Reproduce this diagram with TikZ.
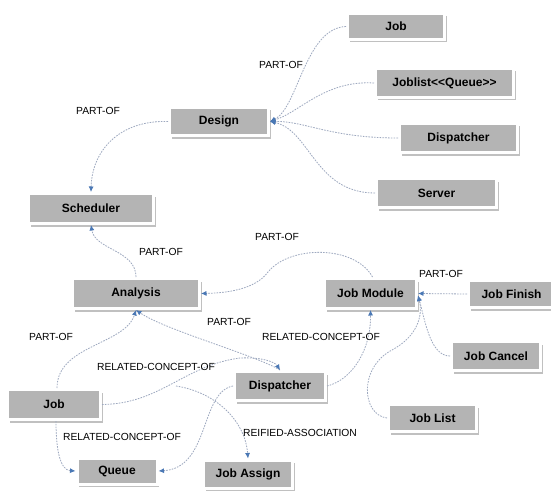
\documentclass[tikz,border=0pt]{standalone}
\usepackage{fontspec}
\setmainfont{Liberation Sans}
\usetikzlibrary{arrows.meta,shadows}
\definecolor{boxgray}{HTML}{B4B4B4}
\definecolor{edgec}{HTML}{9DA8BF}
\definecolor{arrowblue}{HTML}{4A78B5}
\begin{document}
\begin{tikzpicture}[x=1pt,y=-1pt,
 box/.style={draw=white,line width=3pt,fill=boxgray,inner sep=0pt,outer sep=1.5pt,
   font=\fontsize{12}{13}\selectfont\bfseries,
   drop shadow={shadow xshift=2pt,shadow yshift=-3pt,opacity=0.35,fill=black!70}},
 lbl/.style={font=\fontsize{10.3}{12}\selectfont,inner sep=0pt},
 rel/.style={draw=edgec,line width=0.8pt,dash pattern=on 1.6pt off 1.2pt,
   -{Latex[length=5.5pt,width=5pt,color=arrowblue,fill=arrowblue]}},
]
\useasboundingbox (0,0) rectangle (551,492);
\fill[white] (0,0) rectangle (551,492);

% nodes
\node[box,minimum width=97pt,minimum height=26pt] (jobT) at (396,26.5) {Job};
\node[box,minimum width=138pt,minimum height=29pt] (joblist) at (444.5,83) {Joblist<\kern0pt<Queue>\kern0pt>};
\node[box,minimum width=118pt,minimum height=29pt] (dispT) at (458.5,138) {Dispatcher};
\node[box,minimum width=120pt,minimum height=29pt] (server) at (436.5,193) {Server};
\node[box,minimum width=99pt,minimum height=28pt] (design) at (219,121.5) {Design};
\node[box,minimum width=125pt,minimum height=30pt] (sched) at (91,208.5) {Scheduler};
\node[box,minimum width=127pt,minimum height=30pt] (analysis) at (136,293.5) {Analysis};
\node[box,minimum width=92pt,minimum height=30pt] (jobmod) at (370.5,293.5) {Job Module};
\node[box,minimum width=86pt,minimum height=27pt] (jobfin) at (511.5,294) {Job Finish};
\node[box,minimum width=89pt,minimum height=29pt] (jobcan) at (496,356) {Job Cancel};
\node[box,minimum width=88pt,minimum height=27pt] (joblst) at (432.5,418) {Job List};
\node[box,minimum width=91pt,minimum height=29pt] (disp) at (280,386) {Dispatcher};
\node[box,minimum width=93pt,minimum height=30pt] (jobL) at (54,404.5) {Job};
\node[box,minimum width=80pt,minimum height=26pt] (queue) at (117,471) {Queue};
\node[box,minimum width=89pt,minimum height=28pt] (jobassign) at (248,474) {Job Assign};

% helper coordinates
\coordinate (jmin) at ([yshift=-2pt]jobmod.east);
\coordinate (reif) at (176,386);

% edges
\draw[rel] (jobT.west) .. controls (305,28) and (298,108) .. (design.east);
\draw[rel] (joblist.west) .. controls (325,80) and (300,112) .. (design.east);
\draw[rel] (dispT.west) .. controls (330,138) and (305,121) .. (design.east);
\draw[rel] (server.west) .. controls (315,193) and (310,130) .. (design.east);
\draw[rel] (design.west) .. controls (120,120) and (92,150) .. (sched.north);
\draw[rel] (analysis.north) .. controls (136,250) and (95,250) .. (sched.south);
\draw[rel] ([xshift=2pt]jobmod.north) .. controls (355,245) and (290,245) .. (268,272) .. controls (255,290) and (225,293) .. (analysis.east);
\draw[rel] (jobfin.west) -- (jobmod.east);
\draw[rel] (jobcan.west) .. controls (430,356) and (425,320) .. (jmin);
\draw[rel] (joblst.west) .. controls (362,415) and (358,368) .. (392,350) .. controls (418,336) and (423,315) .. (jmin);
\draw[rel] ([xshift=3pt]jobL.north) .. controls (57,345) and (125,345) .. (analysis.south);
\draw[rel] (disp.north) .. controls (255,355) and (165,330) .. (analysis.south);
\draw[rel] (jobL.east) .. controls (160,404) and (185,365) .. (240,358) .. controls (262,357) and (275,362) .. (disp.north);
\draw[rel] (reif) .. controls (215,392) and (245,420) .. (jobassign.north);
\draw[rel] (disp.west) .. controls (200,392) and (210,468) .. (queue.east);
\draw[rel] ([xshift=2pt]jobL.south) .. controls (56,450) and (60,470) .. (queue.west);
\draw[rel] (disp.east) .. controls (352,380) and (371,350) .. (jobmod.south);

% labels
\node[lbl] (l1) at (281,65) {PART-OF};
\node[lbl] (l2) at (98,111) {PART-OF};
\node[lbl] (l3) at (161,252) {PART-OF};
\node[lbl] (l4) at (277,237) {PART-OF};
\node[lbl] (l5) at (441,274) {PART-OF};
\node[lbl] (l6) at (51,337) {PART-OF};
\node[lbl] (l7) at (229,322) {PART-OF};
\node[lbl] (l8) at (321,337) {RELATED-CONCEPT-OF};
\node[lbl] (l9) at (156,367) {RELATED-CONCEPT-OF};
\node[lbl] (l10) at (122,437) {RELATED-CONCEPT-OF};
\node[lbl] (l11) at (300,433) {REIFIED-ASSOCIATION};
\end{tikzpicture}
\end{document}
